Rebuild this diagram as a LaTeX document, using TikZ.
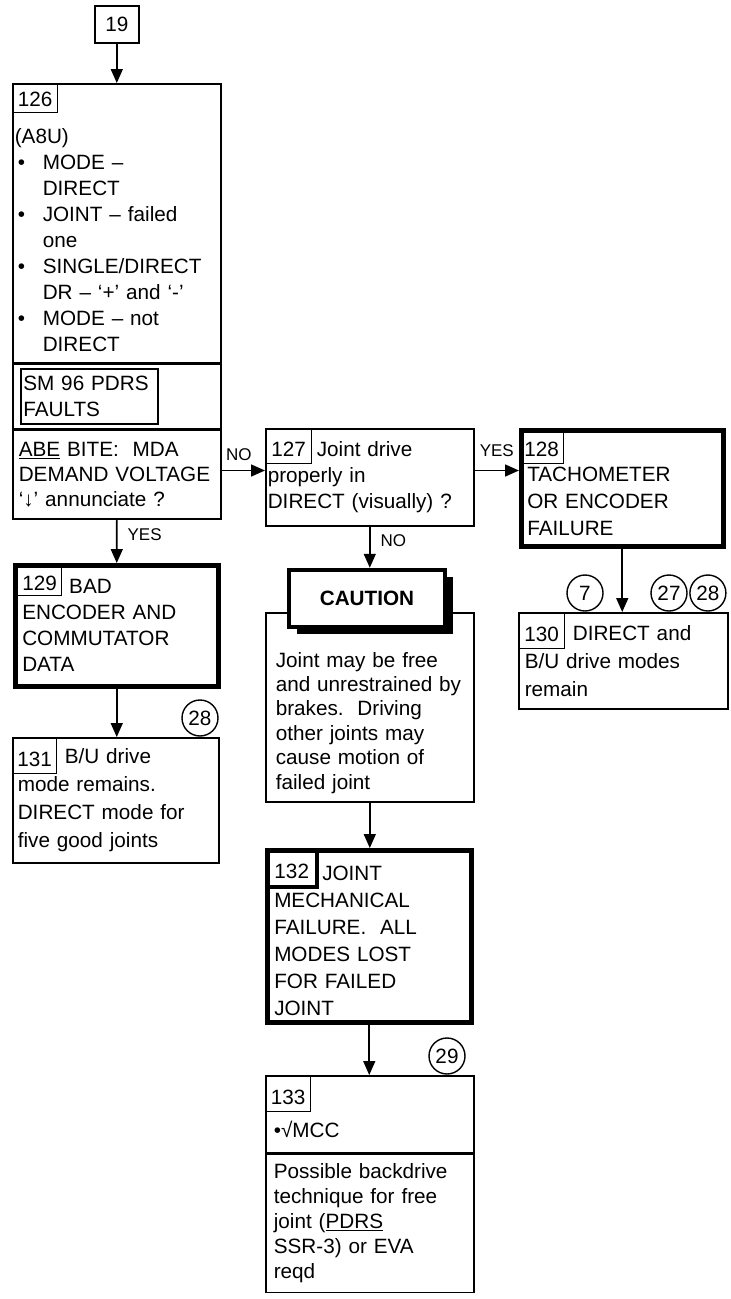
\documentclass[tikz,border=0pt]{standalone}
\usepackage{fontspec}
\setmainfont{Liberation Sans}
\usetikzlibrary{arrows.meta,positioning,shadows}
\newcommand{\bodysize}[1]{\fontsize{20.7}{#1}\selectfont}

\begin{document}
\begin{tikzpicture}[
  x=1pt, y=-1pt,
  font=\bodysize{26},
  box/.style={draw, line width=1.6pt, anchor=north west, align=left,
              inner ysep=0pt, inner xsep=#1},
  box/.default=3pt,
  heavy/.style={box=#1, line width=4.5pt},
  heavy/.default=7pt,
  numbox/.style={draw, line width=1.4pt, anchor=north west, inner sep=0pt,
                 text height=21pt, text depth=0pt,
                 minimum width=45pt, minimum height=35pt},
  refc/.style={circle, draw, line width=1.4pt, minimum size=36pt, inner sep=0pt},
  arr/.style={-{Triangle[length=14pt, width=12pt]}, line width=1.6pt},
  lab/.style={font=\fontsize{17}{19}\selectfont, inner sep=2pt}
]
\useasboundingbox (0,0) rectangle (731,1299);

% ---- entry ----
\node[box, align=center, minimum width=44pt, minimum height=37pt] (b19) at (94,5) {19};

% ---- step 126 ----
\node[box=2pt, text width=204pt, minimum height=279pt] (s126a) at (12,83)
  {\rule{0pt}{48pt}(A8U)\\
   \hspace*{3pt}\makebox[25pt][l]{•}MODE –\\
   \hspace*{28pt}DIRECT\\
   \hspace*{3pt}\makebox[25pt][l]{•}JOINT – failed\\
   \hspace*{28pt}one\\
   \hspace*{3pt}\makebox[25pt][l]{•}SINGLE/DIRECT\\
   \hspace*{28pt}DR – ‘+’ and ‘-’\\
   \hspace*{3pt}\makebox[25pt][l]{•}MODE – not\\
   \hspace*{28pt}DIRECT};
\node[box=4pt, minimum width=208pt, minimum height=64pt] (s126b) at (s126a.south west) {};
\node[box=2.5pt, text width=132pt, minimum height=55pt] (sm96) at (20,368)
  {SM 96 PDRS\\FAULTS};
\node[box=6pt, text width=196pt, minimum height=89pt, font=\bodysize{25}] (s126c)
  at (s126b.south west)
  {\underline{ABE} BITE:\ \ MDA\\DEMAND VOLTAGE\\‘↓’ annunciate ?};
\node[numbox, minimum height=29pt, text height=16pt] (n126) at (s126a.north west) {126};
\coordinate (q126) at ([yshift=4pt]s126c.east);

% ---- step 127 ----
\node[box=2pt, text width=204pt, minimum height=97pt] (b127) at (265,428)
  {\hspace*{49pt}Joint drive\\properly in\\DIRECT (visually) ?};
\node[numbox, minimum width=46pt] (n127) at (b127.north west) {127};

% ---- step 128 ----
\node[heavy=6pt, text width=190pt, minimum height=116pt, font=\bodysize{27}] (b128)
  at (519,428) {\phantom{128}\\TACHOMETER\\OR ENCODER\\FAILURE};
\node[numbox, minimum width=44pt] (n128) at (b128.north west) {128};

% ---- step 129 ----
\node[heavy=7pt, text width=189pt, minimum height=121pt] (b129) at (13,563)
  {\hspace*{47pt}BAD\\ENCODER AND\\COMMUTATOR\\DATA};
\node[numbox, minimum width=44pt, minimum height=28pt, text height=17pt] (n129)
  at (17,567) {129};

% ---- step 130 ----
\node[box=6pt, text width=197pt, minimum height=96pt, font=\bodysize{28}] (b130)
  at (518,612) {\hspace*{48pt}DIRECT and\\B/U drive modes\\remain};
\node[numbox, minimum width=46pt, minimum height=36pt] (n130) at (b130.north west) {130};

% ---- step 131 ----
\node[box=5pt, text width=196pt, minimum height=125pt, font=\bodysize{28}] (b131)
  at (12,737) {\hspace*{47pt}B/U drive\\mode remains.\\DIRECT mode for\\five good joints};
\node[numbox, minimum width=44pt, minimum height=36pt] (n131) at (b131.north west) {131};

% ---- caution ----
\node[box=10pt, text width=188pt, minimum height=189pt, font=\bodysize{24.4}] (cb)
  at (265,612)
  {\rule{0pt}{46pt}Joint may be free\\and unrestrained by\\brakes.\ \ Driving\\
   other joints may\\cause motion of\\failed joint};
\node[heavy, anchor=center, fill=white, minimum width=156pt, minimum height=57pt,
      font=\bfseries\bodysize{26},
      drop shadow={shadow xshift=8pt, shadow yshift=-7pt, fill=black, opacity=1}]
  (cau) at (367,598.5) {CAUTION};

% ---- step 132 ----
\node[heavy=7pt, text width=190pt, minimum height=172pt, font=\bodysize{27}] (b132)
  at (265,848)
  {\rule{0pt}{24pt}\hspace*{48pt}JOINT\\MECHANICAL\\FAILURE.\ \ ALL\\MODES LOST\\
   FOR FAILED\\JOINT};
\node[numbox, line width=3.5pt, minimum width=50pt, minimum height=37pt] (n132)
  at (b132.north west) {132};

% ---- step 133 ----
\node[box=8pt, text width=192pt, minimum height=77pt] (s133a) at (265,1075)
  {\rule{0pt}{46pt}•√MCC};
\node[box=8pt, text width=192pt, minimum height=138pt, font=\bodysize{25}] (s133b)
  at (s133a.south west)
  {Possible backdrive\\technique for free\\joint (\underline{PDRS}\\SSR-3) or EVA\\reqd};
\node[numbox, minimum width=45pt, minimum height=36pt] (n133) at (s133a.north west) {133};

% ---- references ----
\node[refc] (r7) at (585,593) {7};
\node[refc] (r27) at (669,593) {27};
\node[refc, right=1.5pt of r27] (r28a) {28};
\node[refc] (r28b) at (200,718) {28};
\node[refc] (r29) at (447,1056) {29};

% arrows
\draw[arr] (b19.south) -- (s126a.north);
\draw[arr] (s126c.south) -- node[lab, right=8pt, pos=0.35] {YES} (b129.north);
\draw[arr] (q126) -- node[lab, above=7pt, pos=0.4] {NO} (q126 -| b127.west);
\draw[arr] (q126 -| b127.east) -- node[lab, above=11pt] {YES} (q126 -| b128.west);
\draw[arr] (b127.south) -- node[lab, right=8pt, pos=0.35] {NO} (b127.south |- cau.north);
\draw[arr] (b128.south) -- (b128.south |- b130.north);
\draw[arr] (b129.south) -- (b129.south |- b131.north);
\draw[arr] (cb.south) -- (cb.south |- b132.north);
\draw[arr] (b132.south) -- (b132.south |- s133a.north);
\end{tikzpicture}
\end{document}
